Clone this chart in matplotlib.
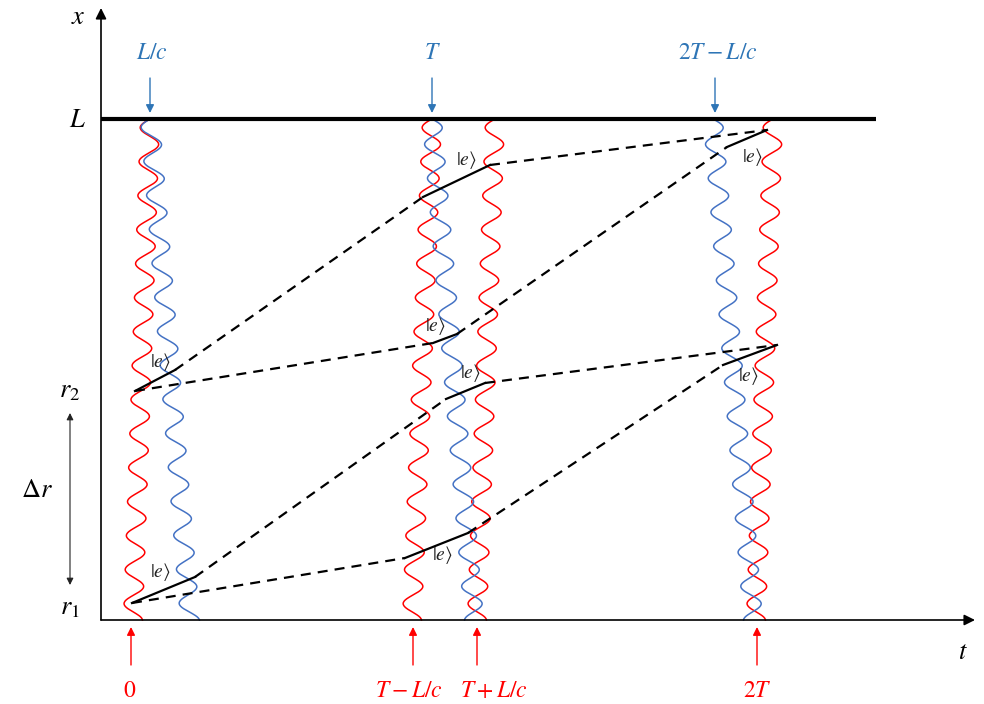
import numpy as np
import matplotlib
matplotlib.use("Agg")
import matplotlib.pyplot as plt

plt.rcParams["mathtext.fontset"] = "stix"

RED = "#FF0000"
BLUE_WAVE = "#4472C4"
BLUE_TEXT = "#2E75B6"

# diagram units: t to the right, x upward, origin at the axis corner
L = 501
r1 = 17
r2 = 229
t_axis_end = 874
x_axis_end = 612
mirror_end = 775

# light pulses, centre line given as (t at x=0, t at x=L)
red_waves = [(32, 49), (311, 331), (376, 394), (655, 672)]
red_sign = [-1, -1, -1, -1]
blue_waves = [(89, 49), (373, 331), (652, 612)]
blue_sign = [-1, 1, 1]
wave_amp = 9.5
wave_len = 34

# excited-state segments |e>, ((t0, x0), (t1, x1))
excited = [
    ((34, 229), (74, 250)),
    ((31, 17), (94, 43)),
    ((322, 423), (389, 455)),
    ((332, 277), (356, 286)),
    ((345, 221), (384, 237)),
    ((304, 62), (367, 87)),
    ((626, 473), (666, 490)),
    ((622, 255), (676, 275)),
]
excited_label_pos = [(59, 258), (59, 48), (365, 460), (334, 294),
                     (369, 247), (341, 65), (651, 463), (647, 244)]

# free propagation between pulses
ground = [
    ((74, 250), (322, 423)),
    ((34, 229), (332, 277)),
    ((94, 43), (345, 221)),
    ((31, 17), (304, 62)),
    ((389, 455), (666, 490)),
    ((356, 286), (626, 473)),
    ((384, 237), (676, 275)),
    ((367, 87), (622, 255)),
]

top_labels = ["$L/c$", "$T$", "$2T-L/c$"]
top_arrow_t = [49, 331, 614]
top_label_t = [51, 331, 617]
bottom_labels = ["$0$", "$T-L/c$", "$T+L/c$", "$2T$"]
bottom_arrow_t = [30, 312, 376, 656]
bottom_label_t = [29, 308, 393, 656]


def draw_wave(ax, t_bottom, t_top, sign, color):
    x = np.linspace(0, L, 800)
    centre = t_bottom + (t_top - t_bottom) * x / L
    t = centre + sign * wave_amp * np.sin(2 * np.pi * (L - x) / wave_len)
    ax.plot(t, x, color=color, lw=1.1, zorder=2)


fig = plt.figure(figsize=(9.84, 7.04), dpi=100)
ax = fig.add_axes([0, 0, 1, 1])
ax.set_xlim(-101, 883)
ax.set_ylim(-84, 620)
ax.axis("off")

# axes with arrow heads
ax.annotate("", xy=(0, x_axis_end), xytext=(0, 0),
            arrowprops=dict(arrowstyle="-|>", color="black", lw=1.2,
                            mutation_scale=16, shrinkA=0, shrinkB=0))
ax.annotate("", xy=(t_axis_end, 0), xytext=(0, 0),
            arrowprops=dict(arrowstyle="-|>", color="black", lw=1.2,
                            mutation_scale=16, shrinkA=0, shrinkB=0))
ax.plot([0, mirror_end], [L, L], color="black", lw=3, solid_capstyle="butt", zorder=3)

for (tb, tt), s in zip(red_waves, red_sign):
    draw_wave(ax, tb, tt, s, RED)
for (tb, tt), s in zip(blue_waves, blue_sign):
    draw_wave(ax, tb, tt, s, BLUE_WAVE)

for (p0, p1) in ground:
    ax.plot([p0[0], p1[0]], [p0[1], p1[1]], color="black", lw=1.6,
            dashes=(4.5, 3.2), zorder=4)
for (p0, p1) in excited:
    ax.plot([p0[0], p1[0]], [p0[1], p1[1]], color="black", lw=1.6, zorder=5)
for (tx, xx) in excited_label_pos:
    ax.text(tx, xx, r"$|e\rangle$", fontsize=14, color="#222222",
            ha="center", va="center", zorder=6)

# pulse time markers
for lab, ta, tl in zip(top_labels, top_arrow_t, top_label_t):
    ax.annotate("", xy=(ta, 507), xytext=(ta, 542),
                arrowprops=dict(arrowstyle="-|>", color=BLUE_TEXT, lw=1.0,
                                mutation_scale=12, shrinkA=0, shrinkB=0))
    ax.text(tl, 568, lab, fontsize=17, color=BLUE_TEXT, ha="center", va="center")
for lab, ta, tl in zip(bottom_labels, bottom_arrow_t, bottom_label_t):
    ax.annotate("", xy=(ta, -7), xytext=(ta, -45),
                arrowprops=dict(arrowstyle="-|>", color=RED, lw=1.0,
                                mutation_scale=12, shrinkA=0, shrinkB=0))
    ax.text(tl, -70, lab, fontsize=17, color=RED, ha="center", va="center")

# left side labels
ax.text(-23, 603, "$x$", fontsize=19, ha="center", va="center")
ax.text(-24, 500, "$L$", fontsize=19, ha="center", va="center")
ax.text(-31, 230, "$r_2$", fontsize=19, ha="center", va="center")
ax.text(-31, 13, "$r_1$", fontsize=19, ha="center", va="center")
ax.text(-64, 130, r"$\Delta r$", fontsize=19, ha="center", va="center")
ax.annotate("", xy=(-31, 35), xytext=(-31, 207),
            arrowprops=dict(arrowstyle="<|-|>", color="#222222", lw=0.8,
                            mutation_scale=10, shrinkA=0, shrinkB=0))
ax.text(862, -32, "$t$", fontsize=19, ha="center", va="center")

fig.savefig("out.png", dpi=100)
